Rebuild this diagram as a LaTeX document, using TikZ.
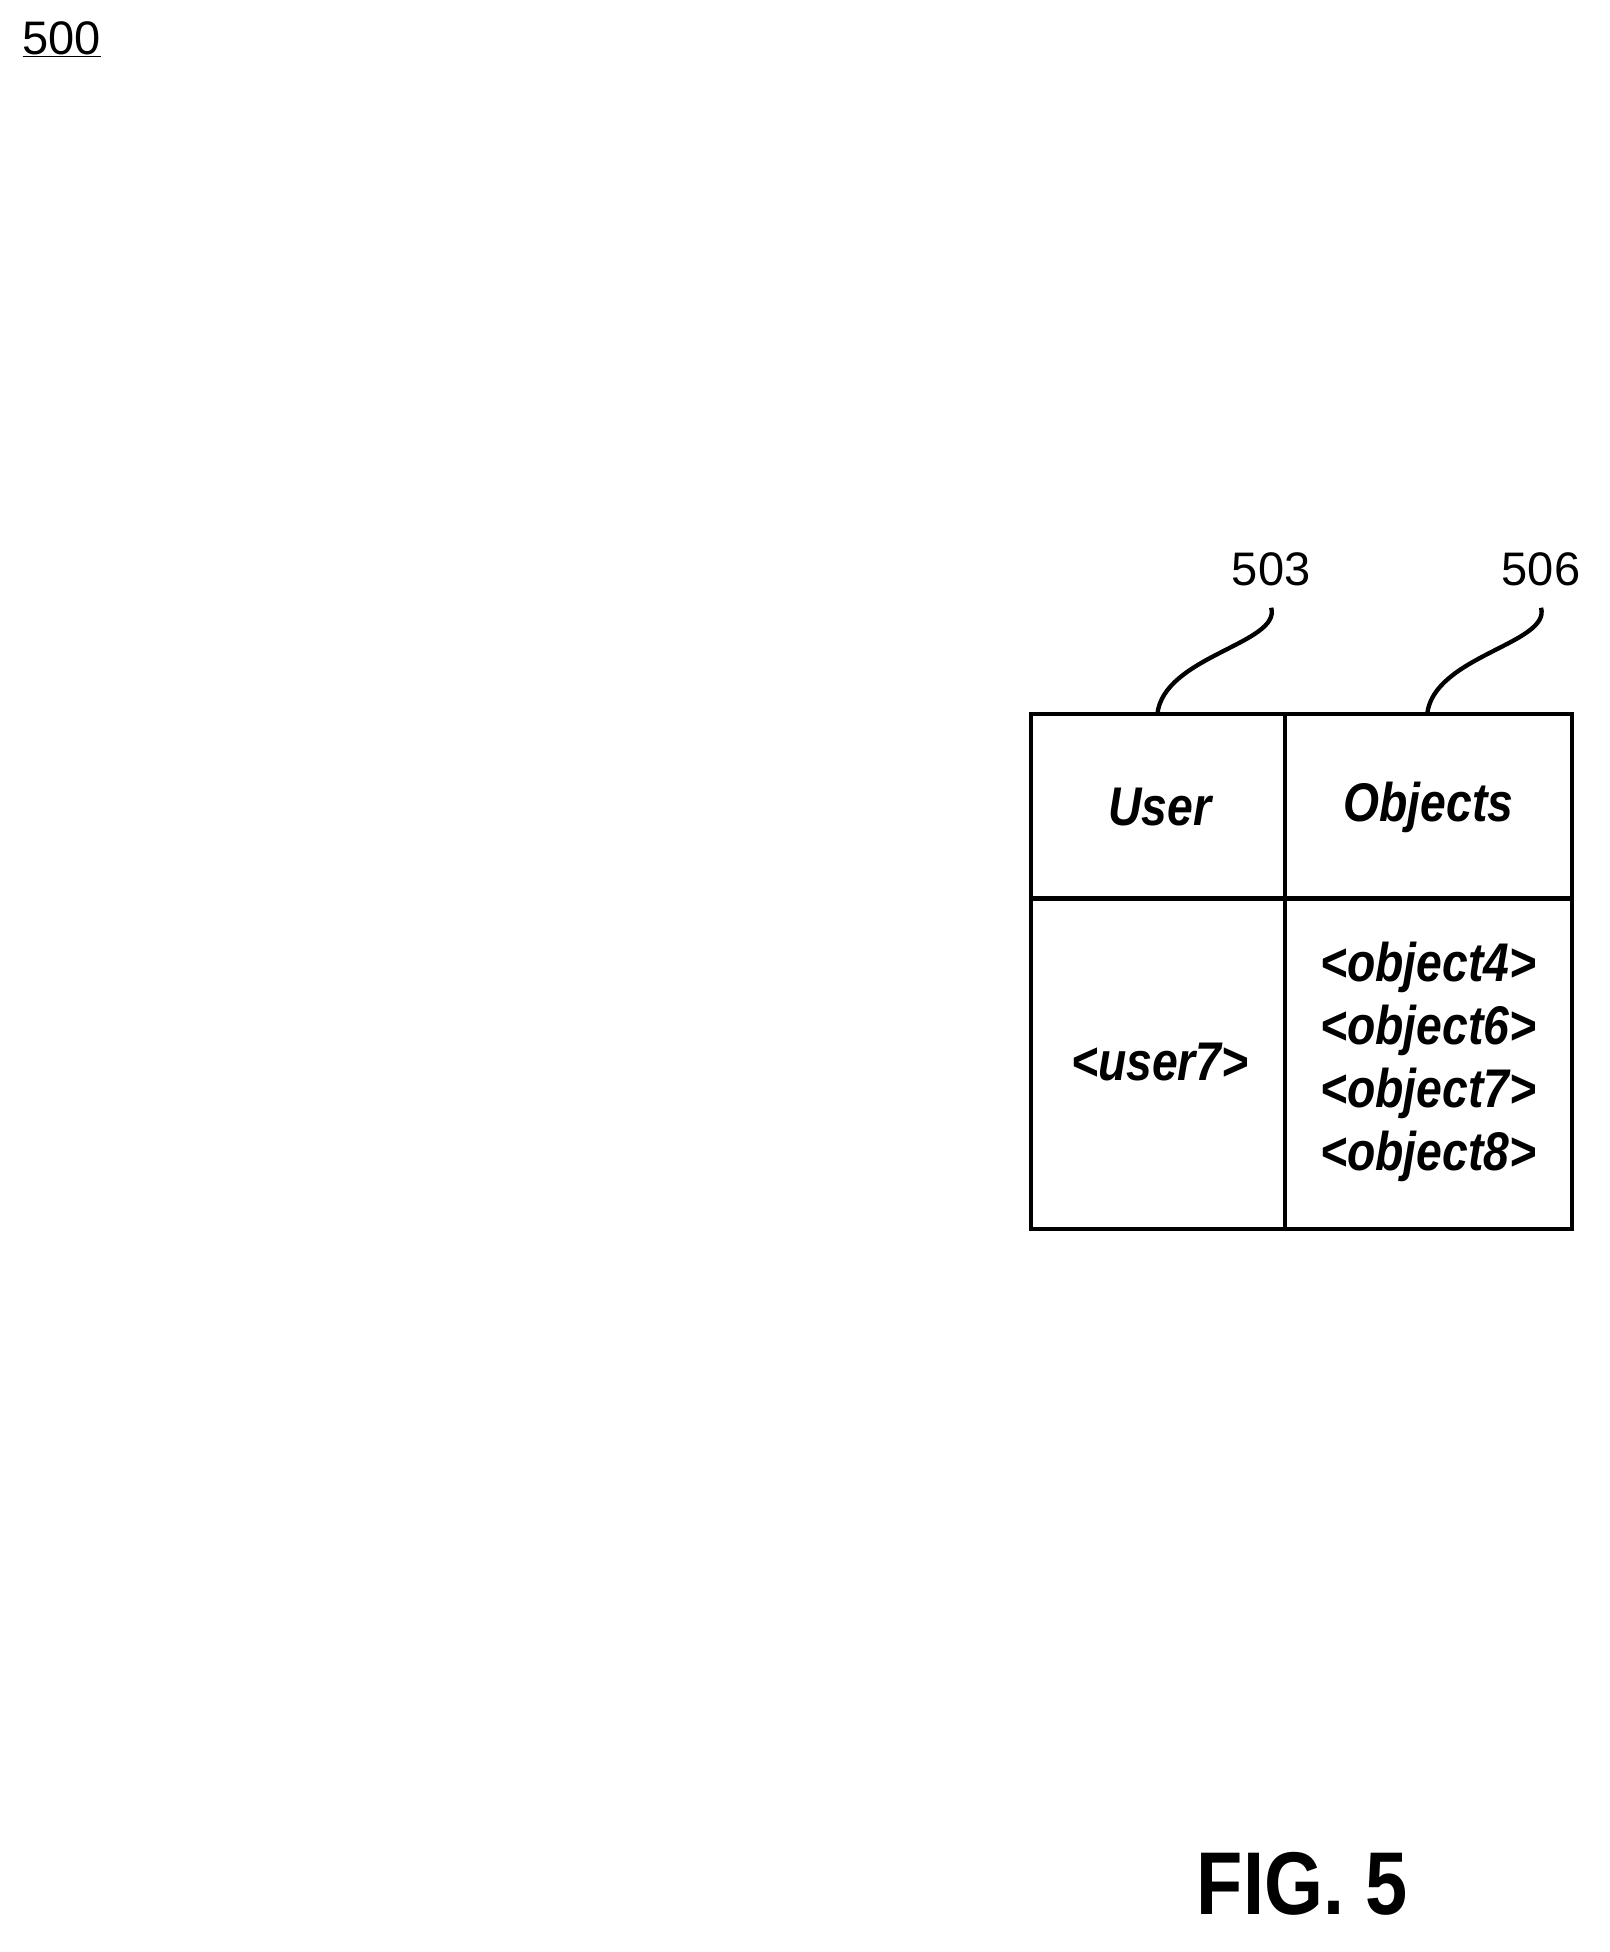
\documentclass[tikz,border=0pt]{standalone}
\usepackage{fontspec}
\setmainfont{Liberation Sans}
\usetikzlibrary{positioning}
\tikzset{
  cell/.style={font=\fontsize{44}{52}\selectfont\bfseries\itshape},
  ref/.style={font=\fontsize{38}{44}\selectfont},
  leader/.style={line width=3.5pt}
}
\begin{document}
\begin{tikzpicture}[x=1pt,y=-1pt]
            \useasboundingbox (0,0) rectangle (1300,1577);

            % Figure number
            \node[ref,anchor=base] (fig) at (50,44) {\underline{500}};

            % Table frame
            \draw[line width=3.5pt] (833,577) rectangle (1270,993);
            \draw[line width=3.5pt] (1038,577) -- (1038,993);
            \draw[line width=3.5pt] (833,726) -- (1270,726);

            % Header cells
            \node[cell] (user) at (937,652) {\scalebox{0.85}[1]{User}};
            \node[cell] (objects) at (1154,652) {\scalebox{0.85}[1]{Objects}};

            % Body cells
            \node[cell] (user7) at (937,858) {\scalebox{0.85}[1]{<user7>}};
            \node[cell,align=center] (objlist) at (1154,858)
              {\scalebox{0.85}[1]{<object4>}\\[-1pt]\scalebox{0.85}[1]{<object6>}\\[-1pt]\scalebox{0.85}[1]{<object7>}\\[-1pt]\scalebox{0.85}[1]{<object8>}};

            % Reference labels
            \node[ref] (r503) at (1027,460) {503};
            \node[ref] (r506) at (1245,460) {506};
            \coordinate (c503) at (935,577);
            \coordinate (c506) at (1153,577);
            \draw[leader] (r503.south) ++(0,14) .. controls (1035,520) and (940,530) .. (c503);
            \draw[leader] (r506.south) ++(0,14) .. controls (1253,520) and (1158,530) .. (c506);

            % Caption
            \node[font=\fontsize{72}{80}\selectfont\bfseries] (caption) at (1052,1522) {\scalebox{0.85}[1]{FIG. 5}};
\end{tikzpicture}
\end{document}
